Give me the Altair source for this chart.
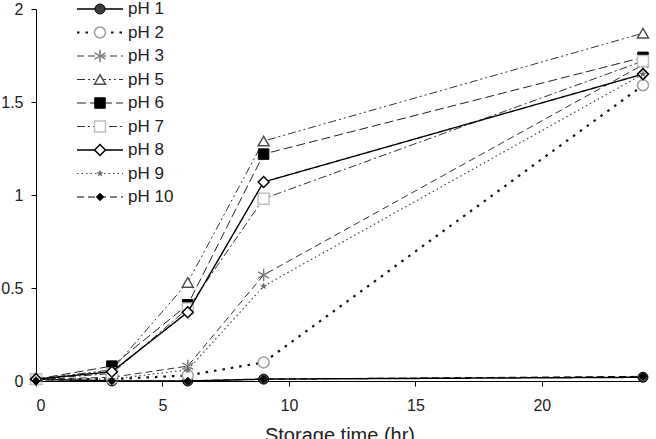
import altair as alt
import pandas as pd

# Storage time (hr) at which each sample was measured
times = [0, 3, 6, 9, 24]

series_names = ["pH 1", "pH 2", "pH 3", "pH 5", "pH 6", "pH 7", "pH 8", "pH 9", "pH 10"]

ph1 = [0.01, 0.00, 0.00, 0.01, 0.02]
ph2 = [0.01, 0.01, 0.03, 0.10, 1.59]
ph3 = [0.01, 0.02, 0.08, 0.57, 1.70]
ph5 = [0.01, 0.06, 0.53, 1.29, 1.87]
ph6 = [0.01, 0.08, 0.41, 1.22, 1.74]
ph7 = [0.01, 0.04, 0.39, 0.98, 1.72]
ph8 = [0.01, 0.05, 0.37, 1.07, 1.65]
ph9 = [0.01, 0.01, 0.06, 0.51, 1.65]
ph10 = [0.00, 0.00, 0.00, 0.01, 0.025]

values = [ph1, ph2, ph3, ph5, ph6, ph7, ph8, ph9, ph10]

x_ticks = [0, 5, 10, 15, 20]
y_ticks = [0, 0.5, 1, 1.5, 2]

rows = []
for name, vals in zip(series_names, values):
    for t, v in zip(times, vals):
        rows.append({"series": name, "time": t, "value": v})
df = pd.DataFrame(rows)
legend_df = pd.DataFrame({"series": series_names})

ASTERISK = "M0,-1L0,1M-0.87,-0.5L0.87,0.5M-0.87,0.5L0.87,-0.5"
STAR = ("M0,-1L0.24,-0.33L0.95,-0.31L0.38,0.12L0.59,0.81L0,0.4L-0.59,0.81"
        "L-0.38,0.12L-0.95,-0.31L-0.24,-0.33Z")

# line and marker styling for each series
styles = {
    "pH 1": dict(line="#000000", dash=[1, 0], lw=1.5, shape="circle", size=100,
                 fill="#3c3c3c", stroke="#000000", sw=1),
    "pH 2": dict(line="#111111", dash=[2.5, 6], lw=2.2, shape="circle", size=120,
                 fill="#ffffff", stroke="#a0a0a0", sw=1.5),
    "pH 3": dict(line="#333333", dash=[7, 4], lw=1, shape=ASTERISK, size=160,
                 fill="transparent", stroke="#808080", sw=1.5),
    "pH 5": dict(line="#333333", dash=[8, 3, 2, 3, 2, 3], lw=1, shape="triangle-up", size=120,
                 fill="#ffffff", stroke="#505050", sw=1.5),
    "pH 6": dict(line="#222222", dash=[9, 4], lw=1, shape="square", size=110,
                 fill="#000000", stroke="#000000", sw=1),
    "pH 7": dict(line="#333333", dash=[8, 3, 2, 3], lw=1, shape="square", size=120,
                 fill="#ffffff", stroke="#c0c0c0", sw=1.5),
    "pH 8": dict(line="#000000", dash=[1, 0], lw=1.4, shape="diamond", size=120,
                 fill="#ffffff", stroke="#000000", sw=1.5),
    "pH 9": dict(line="#444444", dash=[1.5, 3], lw=1.2, shape=STAR, size=40,
                 fill="#666666", stroke="#666666", sw=0.5),
    "pH 10": dict(line="#000000", dash=[7, 4], lw=1, shape="diamond", size=55,
                  fill="#000000", stroke="#000000", sw=1),
}

FONT = "Liberation Sans"

x_enc = alt.X(
    "time:Q",
    scale=alt.Scale(domain=[0, 24], nice=False, zero=True),
    axis=alt.Axis(values=x_ticks, format="d", title="Storage time (hr)",
                  labelPadding=11, titlePadding=12, titleFontSize=20),
)
y_enc = alt.Y(
    "value:Q",
    scale=alt.Scale(domain=[0, 2], nice=False),
    axis=alt.Axis(values=y_ticks, format="~g", title=None, labelPadding=8),
)

base = alt.Chart(df)
plot_layers = []
for name in series_names:
    s = styles[name]
    sub = base.transform_filter(alt.datum.series == name)
    plot_layers.append(
        sub.mark_line(stroke=s["line"], strokeDash=s["dash"], strokeWidth=s["lw"])
        .encode(x=x_enc, y=y_enc)
    )
    plot_layers.append(
        sub.mark_point(shape=s["shape"], size=s["size"], filled=True, fill=s["fill"],
                       stroke=s["stroke"], strokeWidth=s["sw"], opacity=1)
        .encode(x=x_enc, y=y_enc)
    )
plot = alt.layer(*plot_layers)

# hand-drawn legend in the upper left of the plot area
leg_y = alt.Y("series:N",
              scale=alt.Scale(type="point", domain=series_names, range=[0, 188], padding=0),
              axis=None)
leg_base = alt.Chart(legend_df)
legend_layers = []
for name in series_names:
    s = styles[name]
    sub = leg_base.transform_filter(alt.datum.series == name)
    legend_layers.append(
        sub.mark_rule(stroke=s["line"], strokeDash=s["dash"], strokeWidth=s["lw"])
        .encode(x=alt.value(41), x2=alt.value(87), y=leg_y)
    )
    legend_layers.append(
        sub.mark_point(shape=s["shape"], size=s["size"], filled=True, fill=s["fill"],
                       stroke=s["stroke"], strokeWidth=s["sw"], opacity=1)
        .encode(x=alt.value(64), y=leg_y)
    )
legend_layers.append(
    leg_base.mark_text(align="left", baseline="middle", fontSize=17, font=FONT, color="#222222")
    .encode(x=alt.value(92), y=leg_y, text="series:N")
)
legend = alt.layer(*legend_layers)

chart = (
    alt.layer(plot, legend)
    .resolve_scale(y="independent")
    .properties(
        width=607,
        height=372,
        autosize=alt.AutoSizeParams(type="none"),
        padding={"left": 36, "top": 9, "right": 13, "bottom": 58},
        background="white",
    )
    .configure_view(stroke=None)
    .configure_axis(
        grid=False,
        domainColor="#000000",
        domainWidth=1,
        tickColor="#000000",
        tickSize=5,
        labelFont=FONT,
        labelFontSize=16,
        labelColor="#222222",
        titleFont=FONT,
        titleFontWeight="normal",
        titleColor="#222222",
    )
)

chart.save("out.html", embed_options={"renderer": "svg", "actions": False})
